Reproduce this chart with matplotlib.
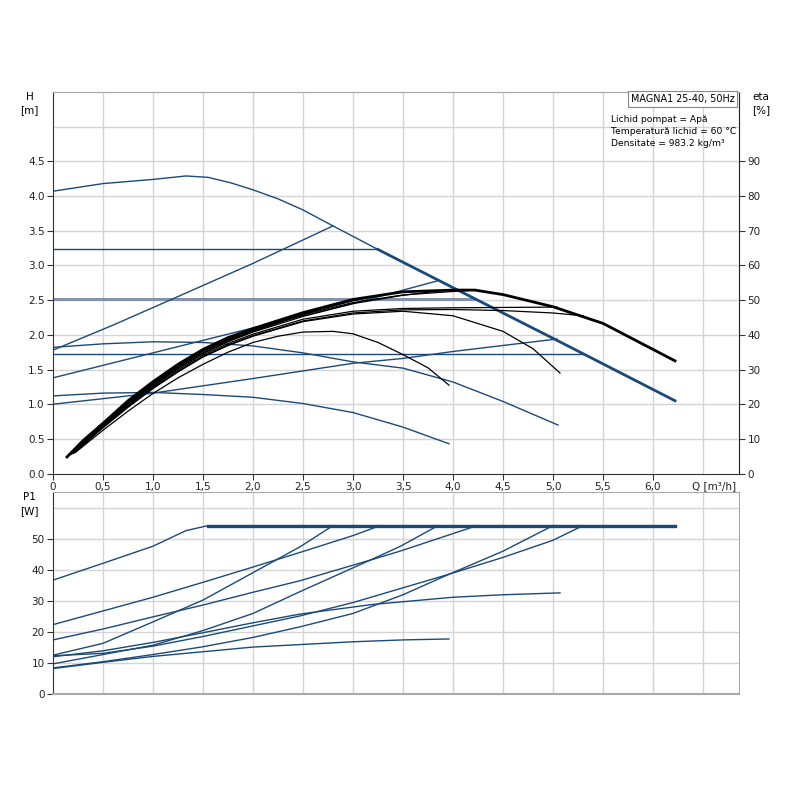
import numpy as np
import matplotlib.pyplot as plt

BLUE = '#1c4a78'
GRID = '#d4d4d4'

# ---- H curves (Q in m3/h, H in m) ----
q_max = [0, 0.5, 1.0, 1.33, 1.55, 1.78, 2.0, 2.25, 2.5, 2.8, 3.25, 4.0, 5.0, 6.22]
h_max = [4.07, 4.18, 4.24, 4.29, 4.27, 4.19, 4.09, 3.96, 3.80, 3.57, 3.23, 2.68, 1.95, 1.05]
q_c323 = [0, 3.25]
h_c323 = [3.23, 3.23]
q_c252 = [0, 4.22]
h_c252 = [2.52, 2.52]
q_c173 = [0, 5.3]
h_c173 = [1.73, 1.73]
q_p28 = [0, 0.6, 1.2, 2.0, 2.8]
h_p28 = [1.78, 2.14, 2.52, 3.03, 3.57]
q_p385 = [0, 1.0, 2.0, 3.0, 3.85]
h_p385 = [1.38, 1.74, 2.10, 2.45, 2.78]
q_p50 = [0, 1.0, 2.0, 3.0, 3.5, 4.0, 5.04]
h_p50 = [1.0, 1.16, 1.37, 1.59, 1.66, 1.76, 1.94]
q_s6 = [0, 0.5, 1.0, 1.5, 2.0, 2.5, 3.0, 3.5, 4.0, 4.5, 5.05]
h_s6 = [1.82, 1.87, 1.90, 1.89, 1.84, 1.74, 1.61, 1.52, 1.32, 1.04, 0.70]
q_s9 = [0, 0.5, 1.0, 1.5, 2.0, 2.5, 3.0, 3.5, 3.96]
h_s9 = [1.12, 1.16, 1.17, 1.14, 1.10, 1.01, 0.88, 0.67, 0.43]

# ---- efficiency curves (eta in %) ----
qe_max = [0.14, 0.3, 0.5, 0.75, 1.0, 1.25, 1.5, 1.75, 2.0, 2.5, 3.0, 3.5, 4.0, 4.22, 4.5, 5.0, 5.5, 6.0, 6.22]
e_max = [4.8, 9.5, 14.5, 21.0, 26.5, 31.5, 35.8, 39.2, 41.8, 46.4, 50.2, 52.4, 52.9, 52.9, 51.6, 48.1, 43.3, 35.8, 32.5]
qe_c323 = [0.18, 0.5, 0.75, 1.0, 1.25, 1.5, 1.75, 2.0, 2.5, 3.0, 3.25]
e_c323 = [5.5, 14.2, 20.5, 26.0, 31.0, 35.3, 38.7, 41.4, 46.0, 49.8, 51.3]
qe_p28 = [0.2, 0.5, 0.75, 1.0, 1.25, 1.5, 1.75, 2.0, 2.5, 2.8]
e_p28 = [5.8, 13.8, 20.0, 25.5, 30.5, 34.8, 38.2, 41.0, 45.8, 48.7]
qe_c252 = [0.2, 0.5, 0.75, 1.0, 1.25, 1.5, 1.75, 2.0, 2.5, 3.0, 3.5, 4.0, 4.22]
e_c252 = [5.8, 14.0, 20.3, 25.8, 30.8, 35.2, 38.5, 41.2, 45.8, 49.3, 51.5, 52.5, 52.9]
qe_p385 = [0.2, 0.5, 0.75, 1.0, 1.25, 1.5, 1.75, 2.0, 2.5, 3.0, 3.5, 3.85]
e_p385 = [6.0, 13.8, 19.9, 25.3, 30.3, 34.6, 38.0, 40.8, 45.3, 49.0, 51.4, 52.6]
qe_p50 = [0.22, 0.5, 0.75, 1.0, 1.25, 1.5, 1.75, 2.0, 2.5, 3.0, 3.5, 4.0, 4.5, 5.04]
e_p50 = [6.2, 13.5, 19.6, 25.0, 29.9, 34.2, 37.5, 40.2, 44.5, 46.8, 47.6, 47.8, 47.9, 48.0]
qe_c173 = [0.22, 0.5, 0.75, 1.0, 1.25, 1.5, 1.75, 2.0, 2.5, 3.0, 3.5, 4.0, 4.5, 5.0, 5.3]
e_c173 = [6.3, 13.3, 19.3, 24.7, 29.5, 33.8, 37.1, 39.8, 44.0, 46.3, 47.2, 47.3, 47.0, 46.3, 45.5]
qe_s6 = [0.22, 0.5, 0.75, 1.0, 1.25, 1.5, 1.75, 2.0, 2.5, 3.0, 3.5, 4.0, 4.5, 4.8, 5.07]
e_s6 = [6.3, 13.2, 19.1, 24.5, 29.3, 33.6, 36.9, 39.6, 43.8, 46.0, 46.8, 45.5, 41.0, 36.0, 29.0]
qe_s9 = [0.22, 0.5, 0.75, 1.0, 1.25, 1.5, 1.75, 2.0, 2.25, 2.5, 2.8, 3.0, 3.25, 3.5, 3.75, 3.96]
e_s9 = [6.0, 12.5, 18.0, 23.1, 27.6, 31.5, 35.0, 37.8, 39.6, 40.8, 41.0, 40.3, 37.8, 34.3, 30.5, 25.5]

# ---- P1 curves (W) ----
qp_max = [0, 0.5, 1.0, 1.33, 1.55, 6.22]
p_max = [36.7, 42.1, 47.6, 52.6, 54.2, 54.2]
qp_c323 = [0, 0.5, 1.0, 1.5, 2.0, 2.5, 3.0, 3.27]
p_c323 = [22.4, 26.8, 31.2, 36.0, 40.9, 45.9, 51.0, 54.2]
qp_p28 = [0, 0.5, 1.0, 1.5, 2.0, 2.47, 2.8]
p_p28 = [12.6, 16.4, 23.3, 30.3, 39.1, 47.4, 54.2]
qp_c252 = [0, 0.5, 1.0, 1.5, 2.0, 2.47, 3.17, 3.47, 4.24]
p_c252 = [17.5, 21.0, 24.9, 28.7, 32.8, 36.5, 43.1, 46.0, 54.2]
qp_p385 = [0, 0.5, 1.0, 1.5, 2.0, 2.47, 3.17, 3.47, 3.85]
p_p385 = [9.8, 12.8, 15.8, 20.5, 26.0, 33.0, 43.1, 47.5, 54.2]
qp_s6 = [0, 0.5, 1.0, 1.5, 2.0, 2.47, 3.2, 4.0, 4.5, 5.07]
p_s6 = [12.1, 14.0, 16.7, 19.8, 23.0, 25.8, 28.9, 31.2, 32.0, 32.6]
qp_c173 = [0, 0.5, 1.0, 1.5, 2.0, 2.47, 3.0, 3.94, 4.5, 5.0, 5.3]
p_c173 = [12.4, 13.2, 15.5, 18.6, 22.0, 25.2, 29.5, 38.4, 44.0, 49.5, 54.2]
qp_p50 = [0, 0.5, 1.0, 1.5, 2.0, 2.47, 3.0, 3.5, 3.94, 4.5, 5.0]
p_p50 = [8.5, 10.5, 12.8, 15.3, 18.3, 21.7, 26.0, 32.0, 38.3, 46.0, 54.2]
qp_s9 = [0, 0.5, 1.0, 1.5, 2.0, 2.47, 3.0, 3.5, 3.96]
p_s9 = [8.3, 10.3, 12.2, 13.7, 15.2, 16.0, 16.9, 17.5, 17.8]

h_ticks = [0.0, 0.5, 1.0, 1.5, 2.0, 2.5, 3.0, 3.5, 4.0, 4.5]
eta_ticks = [0, 10, 20, 30, 40, 50, 60, 70, 80, 90]
p_ticks = [0, 10, 20, 30, 40, 50]
q_ticks = [0, 0.5, 1.0, 1.5, 2.0, 2.5, 3.0, 3.5, 4.0, 4.5, 5.0, 5.5, 6.0]
q_labels = ['0', '0,5', '1,0', '1,5', '2,0', '2,5', '3,0', '3,5', '4,0', '4,5', '5,0', '5,5', '6,0']

plt.rcParams['font.family'] = 'DejaVu Sans'
plt.rcParams['font.size'] = 7.5

fig = plt.figure(figsize=(8, 8), dpi=100)
ax = fig.add_axes([0.06625, 0.408, 0.8575, 0.477])
ax2 = ax.twinx()
axp = fig.add_axes([0.06625, 0.132, 0.8575, 0.253])

XMAX = 6.86

def style(a, ylim, yt, ylabels):
    a.set_xlim(0, XMAX)
    a.set_ylim(*ylim)
    for v in np.arange(0.5, 6.6, 0.5):
        a.axvline(v, color=GRID, lw=1, zorder=0)
    a.set_yticks(yt)
    a.set_yticklabels(ylabels)
    a.tick_params(axis='both', direction='out', length=4, width=0.8, color='#333333',
                  labelcolor='#222222', labelsize=7.5, pad=2)
    a.spines['top'].set_color('#aaaaaa')
    a.spines['right'].set_color('#aaaaaa')
    a.spines['left'].set_color('#333333')
    a.spines['bottom'].set_color('#333333')

# upper chart
style(ax, (0, 5.5), h_ticks, ['%.1f' % v for v in h_ticks])
for v in np.arange(0.5, 5.01, 0.5):
    ax.axhline(v, color=GRID, lw=1, zorder=0)
ax.set_xticks(q_ticks)
ax.set_xticklabels(q_labels)
ax.text(6.83, -0.11, 'Q [m³/h]', ha='right', va='top', fontsize=7.5, color='#222222')

ax.plot(q_c252, h_c252, color='#8492ab', lw=2.2)
for qq, hh in [(q_c323, h_c323), (q_c173, h_c173), (q_p28, h_p28), (q_p385, h_p385),
               (q_p50, h_p50), (q_s6, h_s6), (q_s9, h_s9)]:
    ax.plot(qq, hh, color=BLUE, lw=1.0)
ax.plot(q_max, h_max, color=BLUE, lw=1.0)
ax.plot(q_max[10:], h_max[10:], color=BLUE, lw=2.0)

ax2.set_ylim(0, 110)
ax2.set_yticks(eta_ticks)
ax2.tick_params(axis='y', direction='out', length=4, width=0.8, color='#333333',
                labelcolor='#222222', labelsize=7.5, pad=2)
ax2.spines['right'].set_color('#222222')
ax2.spines['top'].set_color('#aaaaaa')
ax2.spines['left'].set_visible(False)
ax2.spines['bottom'].set_visible(False)
for qq, ee in [(qe_c323, e_c323), (qe_p28, e_p28), (qe_c252, e_c252), (qe_p385, e_p385),
               (qe_p50, e_p50), (qe_c173, e_c173), (qe_s6, e_s6), (qe_s9, e_s9)]:
    ax2.plot(qq, ee, color='black', lw=0.9)
ax2.plot(qe_max, e_max, color='black', lw=2.0)

# lower chart
style(axp, (0, 65), p_ticks, [str(v) for v in p_ticks])
for v in range(10, 61, 10):
    axp.axhline(v, color=GRID, lw=1, zorder=0)
axp.set_xticks([])
axp.spines['bottom'].set_color('#aaaaaa')
axp.spines['bottom'].set_linewidth(1.5)
for qq, pp in [(qp_c323, p_c323), (qp_p28, p_p28), (qp_c252, p_c252), (qp_p385, p_p385),
               (qp_s6, p_s6), (qp_c173, p_c173), (qp_p50, p_p50), (qp_s9, p_s9)]:
    axp.plot(qq, pp, color=BLUE, lw=1.0)
axp.plot(qp_max, p_max, color=BLUE, lw=1.0)
axp.plot(qp_max[4:], p_max[4:], color=BLUE, lw=2.4)

# axis titles
fig.text(0.037, 0.879, 'H', ha='center', va='center', fontsize=7.5)
fig.text(0.037, 0.863, '[m]', ha='center', va='center', fontsize=7.5)
fig.text(0.951, 0.879, 'eta', ha='center', va='center', fontsize=7.5)
fig.text(0.951, 0.863, '[%]', ha='center', va='center', fontsize=7.5)
fig.text(0.037, 0.379, 'P1', ha='center', va='center', fontsize=7.5)
fig.text(0.037, 0.361, '[W]', ha='center', va='center', fontsize=7.5)

# info box
fig.text(0.918, 0.876, 'MAGNA1 25-40, 50Hz', ha='right', va='center', fontsize=6.9,
         bbox=dict(boxstyle='square,pad=0.3', fc='white', ec='#888888', lw=0.8))
fig.text(0.764, 0.851, 'Lichid pompat = Apă', ha='left', va='center', fontsize=6.6)
fig.text(0.764, 0.836, 'Temperatură lichid = 60 °C', ha='left', va='center', fontsize=6.6)
fig.text(0.764, 0.821, 'Densitate = 983.2 kg/m³', ha='left', va='center', fontsize=6.6)

fig.savefig('out.png', dpi=100)
